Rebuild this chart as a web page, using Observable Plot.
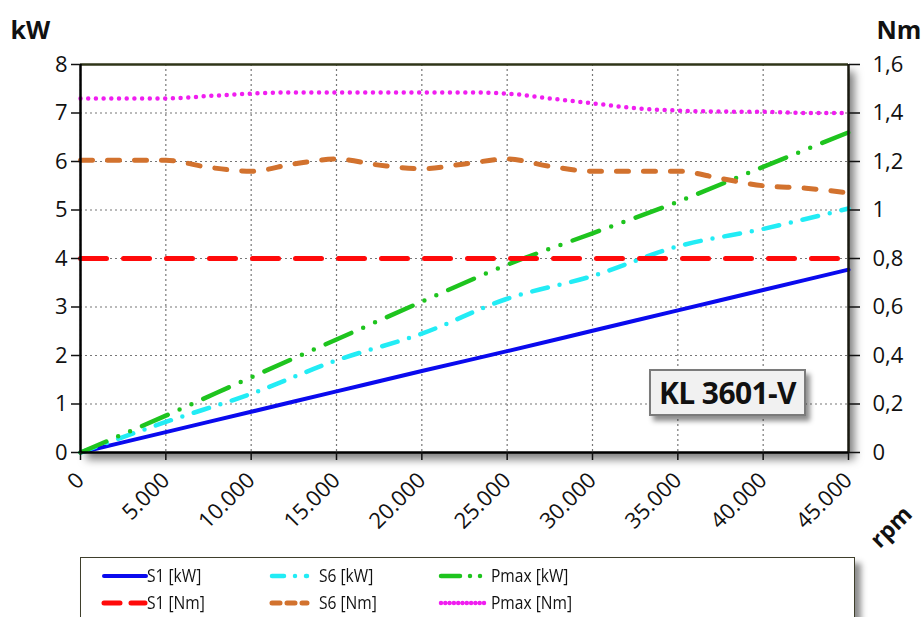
<!DOCTYPE html>
<html><head><meta charset="utf-8">
<script src="https://cdn.jsdelivr.net/npm/d3@7"></script>
<script src="https://cdn.jsdelivr.net/npm/@observablehq/plot@0.6"></script>
<style>
body{margin:0;background:#fff;font-family:"Open Sans",sans-serif;}
#wrap{position:relative;width:922px;height:617px;overflow:hidden;}
#wrap svg{overflow:visible;}
[aria-label="frame"]{filter:drop-shadow(6px 7px 4px rgba(0,0,0,0.5));}
#badge{position:absolute;left:649px;top:369px;width:153px;height:43px;border:2px solid #7b7b7b;background:#f1f1f1;
  box-shadow:4px 5px 5px rgba(0,0,0,0.45);font:bold 30px "Open Sans",sans-serif;display:flex;align-items:center;justify-content:center;color:#111;letter-spacing:-0.6px;}
#legend{position:absolute;left:80px;top:557px;width:773px;height:80px;border:1.5px solid #3f3f2c;background:#fff;
  box-shadow:6px 6px 6px rgba(0,0,0,0.45);}
.sw{position:absolute;}
.lab{position:absolute;font:19px "Open Sans",sans-serif;color:#111;transform:scaleX(0.82);transform-origin:0 50%;white-space:nowrap;line-height:20px;height:20px;}
</style></head><body><div id="wrap"></div>
<script>
// ---- data ----
const rpm = [0, 5000, 10000, 15000, 20000, 25000, 30000, 35000, 40000, 45000];
const s1kW = [0, 0.42, 0.84, 1.26, 1.68, 2.09, 2.51, 2.93, 3.35, 3.77];
const s6kW = [0, 0.63, 1.21, 1.90, 2.45, 3.17, 3.64, 4.25, 4.61, 5.03];
const pmaxkW = [0, 0.76, 1.55, 2.33, 3.11, 3.87, 4.52, 5.17, 5.89, 6.60];
const s1Nm = [0.8, 0.8, 0.8, 0.8, 0.8, 0.8, 0.8, 0.8, 0.8, 0.8];
const rpmFine = [0, 5000, 7500, 10000, 12500, 15000, 17500, 20000, 22500, 25000, 27500, 30000, 32500, 35000, 37500, 40000, 42500, 45000];
const s6Nm = [1.205, 1.205, 1.176, 1.16, 1.19, 1.21, 1.185, 1.17, 1.19, 1.21, 1.18, 1.16, 1.16, 1.16, 1.13, 1.10, 1.09, 1.07];
const pmaxNm = [1.46, 1.46, 1.47, 1.48, 1.485, 1.485, 1.485, 1.485, 1.485, 1.48, 1.46, 1.44, 1.42, 1.41, 1.406, 1.405, 1.40, 1.40];
const kWTicks = [0, 1, 2, 3, 4, 5, 6, 7, 8];
const NmTicks = [0, 0.2, 0.4, 0.6, 0.8, 1.0, 1.2, 1.4, 1.6];
const rpmTicks = [0, 5000, 10000, 15000, 20000, 25000, 30000, 35000, 40000, 45000];
const model = "KL 3601-V";

// ---- helpers ----
const loc = d3.formatLocale({decimal: ",", thousands: ".", grouping: [3], currency: ["", ""]});
const fmtRpm = loc.format(",");
const fmtNm = loc.format(".2~f");
const kWmax = kWTicks[kWTicks.length - 1], Nmmax = NmTicks[NmTicks.length - 1];
const k = kWmax / Nmmax; // Nm -> kW-axis factor
const rows = (xs, vs, f = 1) => xs.map((x, i) => ({x, y: vs[i] * f}));

const series = [
  {name: "S1 [kW]", data: rows(rpm, s1kW), stroke: "#0a0aee", w: 4, dash: null, cap: "round"},
  {name: "S6 [kW]", data: rows(rpm, s6kW), stroke: "#22ecf5", w: 4.5, dash: "16,12,0,12", cap: "round"},
  {name: "Pmax [kW]", data: rows(rpm, pmaxkW), stroke: "#1ec41e", w: 4.5, dash: "28,13,0,13,0,13", cap: "round"},
  {name: "S1 [Nm]", data: rows(rpm, s1Nm, k), stroke: "#ff0a0a", w: 5, dash: "26,17", cap: "round"},
  {name: "S6 [Nm]", data: rows(rpmFine, s6Nm, k), stroke: "#d2722e", w: 5, dash: "12,15", cap: "round"},
  {name: "Pmax [Nm]", data: rows(rpmFine, pmaxNm, k), stroke: "#f01ef0", w: 4.5, dash: "0,7.7", cap: "round"}
];
const legendDash = ["", "12,11,0,11,8", "19,10,0,10,0", "16,11,14", "8,7,8,7,8", "0,4.3"];

const W = 922, H = 555;
const chart = Plot.plot({
  width: W, height: H,
  marginLeft: 80, marginRight: 74, marginTop: 64, marginBottom: 103,
  x: {domain: [rpmTicks[0], rpmTicks[rpmTicks.length - 1]]},
  y: {domain: [kWTicks[0], kWmax]},
  style: {fontFamily: "Open Sans", fontSize: "22px", color: "#111", background: "transparent"},
  marks: [
    Plot.frame({fill: "#fff", stroke: null}),
    Plot.gridX(rpmTicks, {stroke: "#777", strokeOpacity: 1, strokeDasharray: "2,3", strokeWidth: 1.2}),
    Plot.gridY(kWTicks, {stroke: "#777", strokeOpacity: 1, strokeDasharray: "2,3", strokeWidth: 1.2}),
    ...series.map(s => Plot.line(s.data, {x: "x", y: "y", stroke: s.stroke, strokeWidth: s.w,
      strokeDasharray: s.dash, strokeLinecap: s.cap, curve: "monotone-x"})),
    Plot.ruleY([kWmax], {stroke: "#2f3518", strokeWidth: 2.5}),
    Plot.ruleX([rpmTicks[rpmTicks.length - 1]], {stroke: "#1a1a10", strokeWidth: 2.5}),
    Plot.ruleX([0], {stroke: "#000", strokeWidth: 2.5}),
    Plot.ruleY([0], {stroke: "#000", strokeWidth: 2.5}),
    Plot.axisY(kWTicks, {anchor: "left", tickSize: 9, tickPadding: 4, strokeWidth: 1.5, fontSize: 22, label: null, tickFormat: d => String(d)}),
    Plot.axisY(kWTicks, {anchor: "right", tickSize: 11, tickPadding: 13, strokeWidth: 1.5, fontSize: 22, label: null, tickFormat: d => fmtNm(d / k)}),
    Plot.axisX(rpmTicks, {anchor: "bottom", tickSize: 8, tickPadding: 16, strokeWidth: 1.5, fontSize: 22, tickRotate: -45, label: null, tickFormat: fmtRpm}),
    Plot.text(["kW"], {text: d => d, frameAnchor: "top-left", dx: -70, dy: -43, textAnchor: "start", fontWeight: "bold", fontSize: 25}),
    Plot.text(["Nm"], {text: d => d, frameAnchor: "top-right", dx: 28, dy: -43, textAnchor: "start", fontWeight: "bold", fontSize: 25}),
    Plot.text(["rpm"], {text: d => d, frameAnchor: "bottom-right", dx: 65, dy: 63, rotate: -45, fontWeight: "bold", fontSize: 23})
  ]
});
const wrap = document.getElementById("wrap");
wrap.appendChild(chart);

const badge = document.createElement("div");
badge.id = "badge"; badge.textContent = model;
wrap.appendChild(badge);

// legend
const legend = document.createElement("div");
legend.id = "legend";
const colSw = [23, 191, 360], colW = [42, 35, 44], colLab = [66, 238, 410], rowY = [18, 45];
series.forEach((s, j) => {
  const col = j % 3, row = Math.floor(j / 3);
  const w = colW[col];
  const sw = d3.create("svg").attr("class", "sw").attr("width", w + 6).attr("height", 12)
    .style("left", (colSw[col] - 3) + "px").style("top", (rowY[row] - 6) + "px");
  sw.append("line").attr("x1", 3).attr("x2", w + 3).attr("y1", 6).attr("y2", 6)
    .attr("stroke", s.stroke).attr("stroke-width", s.w)
    .attr("stroke-dasharray", legendDash[j] || null).attr("stroke-linecap", s.cap);
  legend.appendChild(sw.node());
  const t = document.createElement("div");
  t.className = "lab";
  t.style.left = colLab[col] + "px";
  t.style.top = (rowY[row] - 11) + "px";
  t.textContent = s.name;
  legend.appendChild(t);
});
wrap.appendChild(legend);
</script>
</body></html>
